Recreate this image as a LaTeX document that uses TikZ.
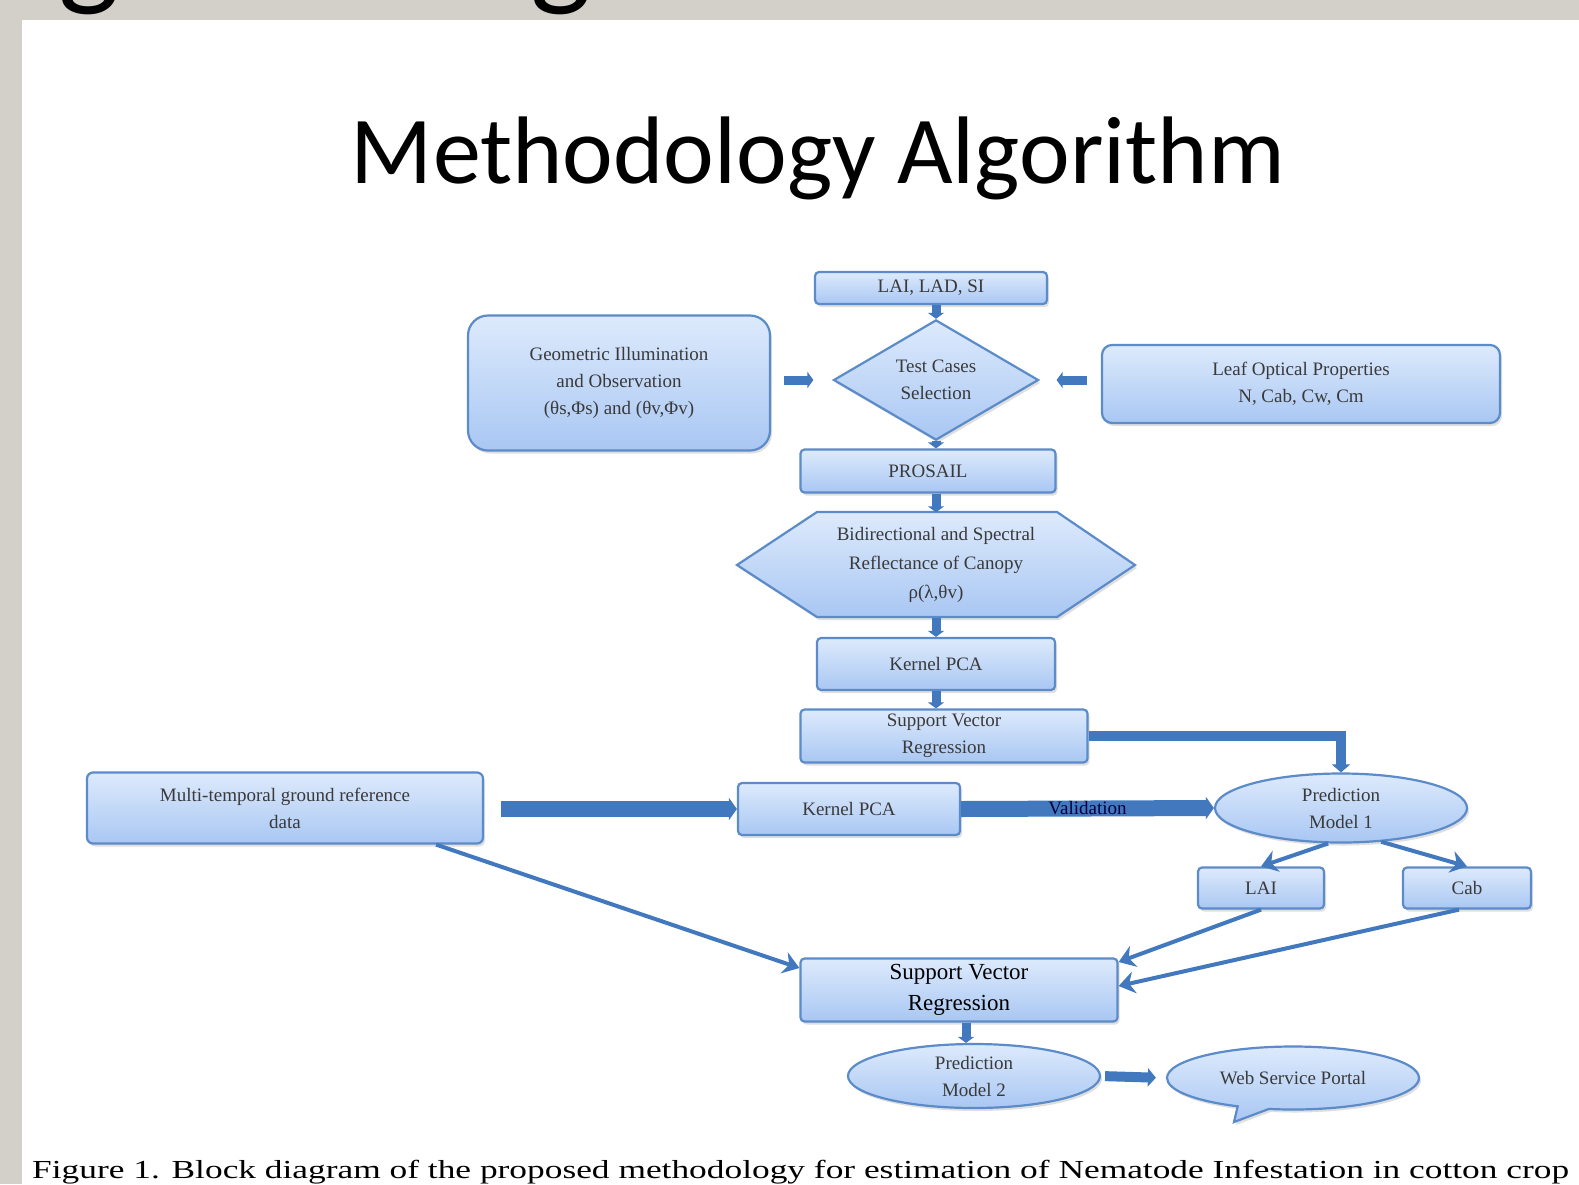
\documentclass[tikz,border=0pt]{standalone}
\usepackage{fontspec}
\setmainfont{Liberation Serif}
\newfontfamily\titlefont{Carlito}
\usetikzlibrary{shapes.geometric,shapes.callouts,arrows.meta,shadows,calc}
\definecolor{bgray}{HTML}{D3D0CA}
\definecolor{btop}{HTML}{DDEAFC}
\definecolor{bbot}{HTML}{A9C7F3}
\definecolor{bline}{HTML}{5B8BC9}
\definecolor{arr}{HTML}{4178BE}
\definecolor{txt}{HTML}{3A3A3A}
\begin{document}
\begin{tikzpicture}[x=1pt,y=-1pt,
  shade/.style={draw=bline, line width=2.2pt, top color=btop, bottom color=bbot,
    drop shadow={opacity=0.25,shadow xshift=2pt,shadow yshift=-3pt}},
  blk/.style={shade, rectangle, rounded corners=4pt, font=\fontsize{19}{27}\selectfont,
    text=txt, align=center, inner sep=0pt},
  dia/.style={shade, diamond, font=\fontsize{19}{27}\selectfont, text=txt, align=center, inner sep=0pt},
  ell/.style={shade, ellipse, font=\fontsize{19}{27}\selectfont, text=txt, align=center, inner sep=0pt},
  thk/.style={draw=arr, line width=9pt, -{Triangle[width=16pt,length=6pt]}},
  mid/.style={draw=arr, line width=10pt, -{Triangle[width=18pt,length=8pt]}},
  big/.style={draw=arr, line width=16pt, -{Triangle[width=22pt,length=8pt]}},
  thn/.style={draw=arr, line width=4pt, -{Stealth[length=16pt,width=22pt]}}
]
\useasboundingbox (0,0) rectangle (1579,1184);
\fill[bgray] (0,0) rectangle (1579,1184);
% cut-off large heading of the slide above
\begin{scope}
\clip (0,0) rectangle (1579,20);
\node[anchor=base west, inner sep=0pt, font=\titlefont\fontsize{130}{130}\selectfont] at (58,-8) {g};
\node[anchor=base west, inner sep=0pt, font=\titlefont\fontsize{130}{130}\selectfont] at (530,-8) {g};
\end{scope}
\fill[white] (22,20) rectangle (1579,1184);
% title
\node[anchor=base, inner sep=0pt, font=\titlefont\fontsize{96}{96}\selectfont] (title) at (818,183) {Methodology Algorithm};

% top column
\node[blk, minimum width=232, minimum height=32] (lai0) at (931,288) {LAI, LAD, SI};
\node[dia, minimum width=205, minimum height=106] (dia) at (936,380) {Test Cases\\Selection};
\node[blk, rounded corners=20pt, minimum width=302, minimum height=135] (geo) at (619,383)
  {Geometric Illumination\\and Observation\\(θs,Φs) and (θv,Φv)};
\node[blk, rounded corners=10pt, minimum width=398, minimum height=78] (leaf) at (1301,384)
  {Leaf Optical Properties\\N, Cab, Cw, Cm};
\node[blk, minimum width=255, minimum height=43] (pro) at (928,471) {PROSAIL};
\path[shade] (737,565) -- (817,512) -- (1057,512) -- (1135,565) -- (1057,617) -- (817,617) -- cycle;
\node[font=\fontsize{19}{29}\selectfont, text=txt, align=center, inner sep=0pt,
  minimum width=398, minimum height=105] (hex) at (936,565)
  {Bidirectional and Spectral\\Reflectance of Canopy\\ρ(λ,θv)};
\node[blk, minimum width=238, minimum height=52] (kp1) at (936,664) {Kernel PCA};
\node[blk, minimum width=287, minimum height=53] (svr1) at (944,736) {Support Vector\\Regression};

% lower part
\node[blk, rounded corners=6pt, minimum width=396, minimum height=71] (multi) at (285,808)
  {Multi-temporal ground reference\\data};
\node[blk, minimum width=222, minimum height=52] (kp2) at (849,809) {Kernel PCA};
\node[ell, minimum width=252, minimum height=69] (pm1) at (1341,808) {Prediction\\Model 1};
\node[blk, minimum width=126, minimum height=41] (lai) at (1261,888) {LAI};
\node[blk, minimum width=128, minimum height=41] (cab) at (1467,888) {Cab};
\node[blk, minimum width=317, minimum height=63, text=black, font=\fontsize{23}{31}\selectfont] (svr2) at (959,990)
  {Support Vector\\Regression};
\node[ell, minimum width=252, minimum height=64] (pm2) at (974,1076) {Prediction\\Model 2};
\node[shade, ellipse callout, callout absolute pointer={(1234,1122)}, minimum width=252, minimum height=63,
  font=\fontsize{19}{27}\selectfont, text=txt, inner sep=0pt] (web) at (1293,1078) {Web Service Portal};

% connectors
\coordinate (cx) at (936,0);
\draw[thk] (lai0.south -| cx) -- (dia.north);
\draw[thk] (dia.south) -- (dia.south |- pro.north);
\draw[thk] (pro.south -| cx) -- (hex.north);
\draw[thk] (hex.south) -- (kp1.north);
\draw[thk] (kp1.south) -- (kp1.south |- svr1.north);
\draw[thk, shorten <=13pt, shorten >=19pt] (dia.west -| geo.east) -- (dia.west);
\draw[thk, shorten <=14pt, shorten >=17pt] (dia.east -| leaf.west) -- (dia.east);
\draw[mid] (svr1.east) -| (pm1.north);
\draw[big, shorten <=17pt] (multi.east |- kp2.west) -- (kp2.west);
\draw[big] (kp2.east) -- node[font=\fontsize{19}{22}\selectfont, text=black!75!blue] {Validation} (pm1.west);
\draw[thn] (pm1.250) -- (lai.north);
\draw[thn] (pm1.320) -- (cab.north);
\draw[thn] ($(multi.south east)+(-48,0)$) -- ($(svr2.west)+(0,-22)$);
\draw[thn] (lai.south) -- ($(svr2.east)+(0,-28)$);
\draw[thn] ($(cab.south)+(-8,0)$) -- ($(svr2.east)+(0,-4)$);
\coordinate (cx2) at (966,0);
\draw[thk] (svr2.south -| cx2) -- (cx2 |- pm2.north);
\draw[mid, shorten <=4pt, shorten >=10pt] (pm2.east) -- (web.west);

% caption
\begin{scope}
\clip (22,1120) rectangle (1579,1184);
\node[anchor=base west, inner sep=0pt, font=\fontsize{26}{26}\selectfont] (cap) at (32,1178)
  {\scalebox{1.36}[1]{Figure 1. Block diagram of the proposed methodology for estimation of Nematode Infestation in cotton crop}};
\end{scope}
\end{tikzpicture}
\end{document}
